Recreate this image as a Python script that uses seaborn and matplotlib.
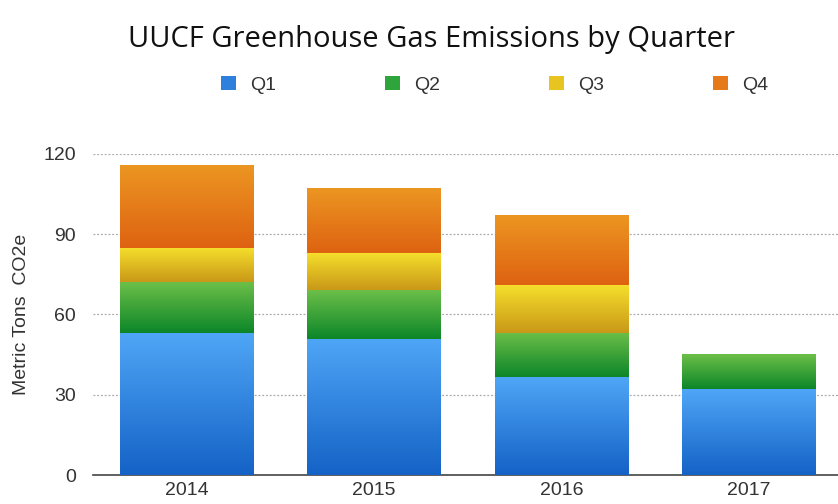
import numpy as np
import pandas as pd
import seaborn as sns
import matplotlib.pyplot as plt
from matplotlib.colors import LinearSegmentedColormap
from matplotlib.patches import Patch

# Data
years = ['2014', '2015', '2016', '2017']
quarters = ['Q1', 'Q2', 'Q3', 'Q4']
q1 = [53, 51, 36.5, 32]
q2 = [19, 18, 16.5, 13]
q3 = [13, 14, 18, 0]
q4 = [31, 24, 26, 0]
y_ticks = [0, 30, 60, 90, 120]

# gradient colours per quarter: (top, bottom)
grad = {
    'Q1': ('#4fa6f6', '#1462c6'),
    'Q2': ('#6cbf48', '#0c8629'),
    'Q3': ('#f6e02c', '#c99818'),
    'Q4': ('#ec9622', '#de6211'),
}
mid = {'Q1': '#2f80dc', 'Q2': '#2da53a', 'Q3': '#e8c421', 'Q4': '#e67a1a'}

df = pd.DataFrame({'Year': years, 'Q1': q1, 'Q2': q2, 'Q3': q3, 'Q4': q4})
cum = df[quarters].cumsum(axis=1)

sns.set_style('white')
plt.rcParams['font.family'] = ['Liberation Sans', 'DejaVu Sans']

fig = plt.figure(figsize=(8.38, 5.04), dpi=100)
ax = fig.add_axes([0.1107, 0.0575, 0.895, 0.637])

bar_w = 0.71
# draw cumulative layers (top layer first) so each segment is visible
for q in reversed(quarters):
    d = pd.DataFrame({'Year': years, 'val': cum[q]})
    sns.barplot(data=d, x='Year', y='val', order=years, color=mid[q],
                width=bar_w, ax=ax, saturation=1, edgecolor='none', zorder=2)

# gradient overlay on each visible segment
grad_img = np.linspace(0, 1, 256).reshape(-1, 1)
for i, yr in enumerate(years):
    lower = 0
    for q in quarters:
        upper = cum.loc[i, q]
        if upper - lower > 0:
            cmap = LinearSegmentedColormap.from_list(q, [grad[q][1], grad[q][0]])
            ax.imshow(grad_img, cmap=cmap, origin='lower', aspect='auto',
                      extent=[i - bar_w / 2, i + bar_w / 2, lower, upper],
                      zorder=3, interpolation='bilinear')
        lower = upper

ax.set_xlim(-0.5, 3.5)
ax.set_ylim(0, 120)
ax.set_yticks(y_ticks)
ax.set_yticklabels([str(t) for t in y_ticks], fontsize=14, color='#333333')
ax.tick_params(axis='x', labelsize=14, labelcolor='#333333', length=0, pad=5)
ax.tick_params(axis='y', length=0, pad=12)
ax.set_xlabel('')
ax.set_ylabel('Metric Tons  CO2e', fontsize=14, color='#333333', labelpad=10)

for t in y_ticks[1:]:
    ax.axhline(t, color='#aaaaaa', linestyle=(0, (1.5, 1.5)), linewidth=0.9, zorder=1)
for s in ['top', 'right', 'left']:
    ax.spines[s].set_visible(False)
ax.spines['bottom'].set_color('#444444')
ax.spines['bottom'].set_linewidth(1.2)

fig.suptitle('UUCF Greenhouse Gas Emissions by Quarter', x=0.515, y=0.95,
             fontsize=21, family=['Open Sans', 'DejaVu Sans'], color='#111111')

handles = [Patch(facecolor=mid[q], edgecolor='none') for q in quarters]
fig.legend(handles, quarters, loc='center', bbox_to_anchor=(0.59, 0.832), ncol=4,
           frameon=False, fontsize=14, handlelength=0.8, handleheight=0.8,
           handletextpad=0.7, columnspacing=5.6, labelcolor='#333333')

fig.savefig('out.png', dpi=100)
